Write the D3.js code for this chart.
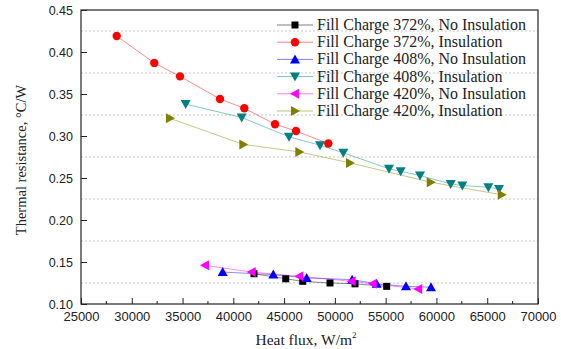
<!DOCTYPE html>
<html><head><meta charset="utf-8">
<script src="https://cdn.jsdelivr.net/npm/d3@7"></script>
<style>body{margin:0;background:#fff}svg{display:block}</style>
</head><body>
<svg id="c" width="561" height="349"></svg>
<script>
const seriesNames = ["Fill Charge 372%, No Insulation","Fill Charge 372%, Insulation","Fill Charge 408%, No Insulation","Fill Charge 408%, Insulation","Fill Charge 420%, No Insulation","Fill Charge 420%, Insulation"];
const seriesColors = ["#000000","#ff0000","#0000ff","#008080","#ff00ff","#808000"];
const seriesSymbols = ["square","circle","up","down","left","right"];
const s372No = [[42035,0.136],[45160,0.130],[46830,0.127],[49520,0.125],[51980,0.124],[55100,0.121]];
const s372Ins = [[28515,0.419],[32218,0.387],[34748,0.371],[38687,0.344],[41080,0.333],[44103,0.314],[46171,0.306],[49352,0.291]];
const s408No = [[38950,0.138],[43935,0.135],[47220,0.131],[51700,0.129],[54110,0.124],[57000,0.121],[59465,0.120]];
const s408Ins = [[35310,0.338],[40825,0.322],[45482,0.299],[48535,0.289],[50830,0.280],[55329,0.261],[56477,0.258],[58381,0.253],[61404,0.243],[62552,0.241],[65112,0.239],[66166,0.237]];
const s420No = [[37210,0.146],[41810,0.138],[46496,0.133],[51655,0.127],[53725,0.124],[58210,0.118]];
const s420Ins = [[33764,0.321],[40981,0.290],[46496,0.281],[51489,0.268],[59437,0.245],[66431,0.230]];
const seriesData = [s372No,s372Ins,s408No,s408Ins,s420No,s420Ins];
const xTicks = [25000,30000,35000,40000,45000,50000,55000,60000,65000,70000];
const yTicks = [0.10,0.15,0.20,0.25,0.30,0.35,0.40,0.45];
const yGrid = [0.125,0.175,0.225,0.275,0.325,0.375,0.425];
const xTitle = "Heat flux, W/m";
const yTitle = "Thermal resistance, °C/W";

const svg = d3.select("#c");
const L=81,R=538,T=10,B=304;
const x = d3.scaleLinear().domain([25000,70000]).range([L,R]);
const y = d3.scaleLinear().domain([0.10,0.45]).range([B,T]);

// grid
svg.append("g").selectAll("line").data(yGrid).join("line")
  .attr("x1",L).attr("x2",R).attr("y1",d=>y(d)).attr("y2",d=>y(d))
  .attr("stroke","#bbb").attr("stroke-width",0.8).attr("stroke-dasharray","2,2");

// frame
svg.append("rect").attr("x",L).attr("y",T).attr("width",R-L).attr("height",B-T)
  .attr("fill","none").attr("stroke","#222").attr("stroke-width",1.2);

// axes
const xAxis = svg.append("g").attr("transform",`translate(0,${B})`)
  .call(d3.axisBottom(x).tickValues(xTicks).tickFormat(d3.format("d")).tickSizeInner(-6).tickSizeOuter(0).tickPadding(8));
const xMinor = d3.range(27500,70000,5000);
svg.append("g").selectAll("line").data(xMinor).join("line")
  .attr("x1",d=>x(d)).attr("x2",d=>x(d)).attr("y1",B).attr("y2",B-3).attr("stroke","#222");
const yAxis = svg.append("g").attr("transform",`translate(${L},0)`)
  .call(d3.axisLeft(y).tickValues(yTicks).tickFormat(d3.format(".2f")).tickSizeInner(-6).tickSizeOuter(0).tickPadding(8));
[xAxis,yAxis].forEach(a=>{
  a.select(".domain").remove();
  a.selectAll("line").attr("stroke","#222");
  a.selectAll("text").attr("font-family","Liberation Sans, Arial, sans-serif").attr("fill","#222");
});
xAxis.selectAll("text").attr("font-size",13);
yAxis.selectAll("text").attr("font-size",12.5);

// symbols
function sym(g,type,color){
  let p;
  if(type==="square") p=g.append("rect").attr("x",-3.5).attr("y",-3.5).attr("width",7).attr("height",7);
  else if(type==="circle") p=g.append("circle").attr("r",4.2);
  else {
    const s=5;
    const pts={up:[[0,-s],[s,s*0.8],[-s,s*0.8]],down:[[0,s],[s,-s*0.8],[-s,-s*0.8]],left:[[-s,0],[s*0.8,-s],[s*0.8,s]],right:[[s,0],[-s*0.8,-s],[-s*0.8,s]]}[type];
    p=g.append("polygon").attr("points",pts.map(q=>q.join(",")).join(" "));
  }
  p.attr("fill",color);
}

const line = d3.line().x(d=>x(d[0])).y(d=>y(d[1]));
seriesData.forEach((data,i)=>{
  svg.append("path").attr("d",line(data)).attr("fill","none")
    .attr("stroke",seriesColors[i]).attr("stroke-opacity",0.45).attr("stroke-width",1);
});
seriesData.forEach((data,i)=>{
  data.forEach(d=>{
    const g=svg.append("g").attr("transform",`translate(${x(d[0])},${y(d[1])})`);
    sym(g,seriesSymbols[i],seriesColors[i]);
  });
});

// legend
const lg = svg.append("g");
seriesNames.forEach((n,i)=>{
  const yy = 25 + i*17.2;
  lg.append("line").attr("x1",277).attr("x2",313).attr("y1",yy).attr("y2",yy)
    .attr("stroke",seriesColors[i]).attr("stroke-opacity",0.5).attr("stroke-width",1);
  const g=lg.append("g").attr("transform",`translate(295,${yy})`);
  sym(g,seriesSymbols[i],seriesColors[i]);
  lg.append("text").attr("x",317).attr("y",yy+5).text(n)
    .attr("font-family","Liberation Serif, Times New Roman, serif").attr("font-size",16).attr("fill","#222");
});

// titles
const xt = svg.append("text").attr("x",306).attr("y",345).attr("text-anchor","middle")
  .attr("font-family","Liberation Serif, Times New Roman, serif").attr("font-size",15.5).attr("fill","#222");
xt.append("tspan").text(xTitle);
xt.append("tspan").attr("font-size",9).attr("dy",-7).text("2");
svg.append("text").attr("transform","translate(26,160) rotate(-90)").attr("text-anchor","middle")
  .attr("font-family","Liberation Serif, Times New Roman, serif").attr("font-size",14.5).attr("fill","#222")
  .text(yTitle);
</script>
</body></html>
